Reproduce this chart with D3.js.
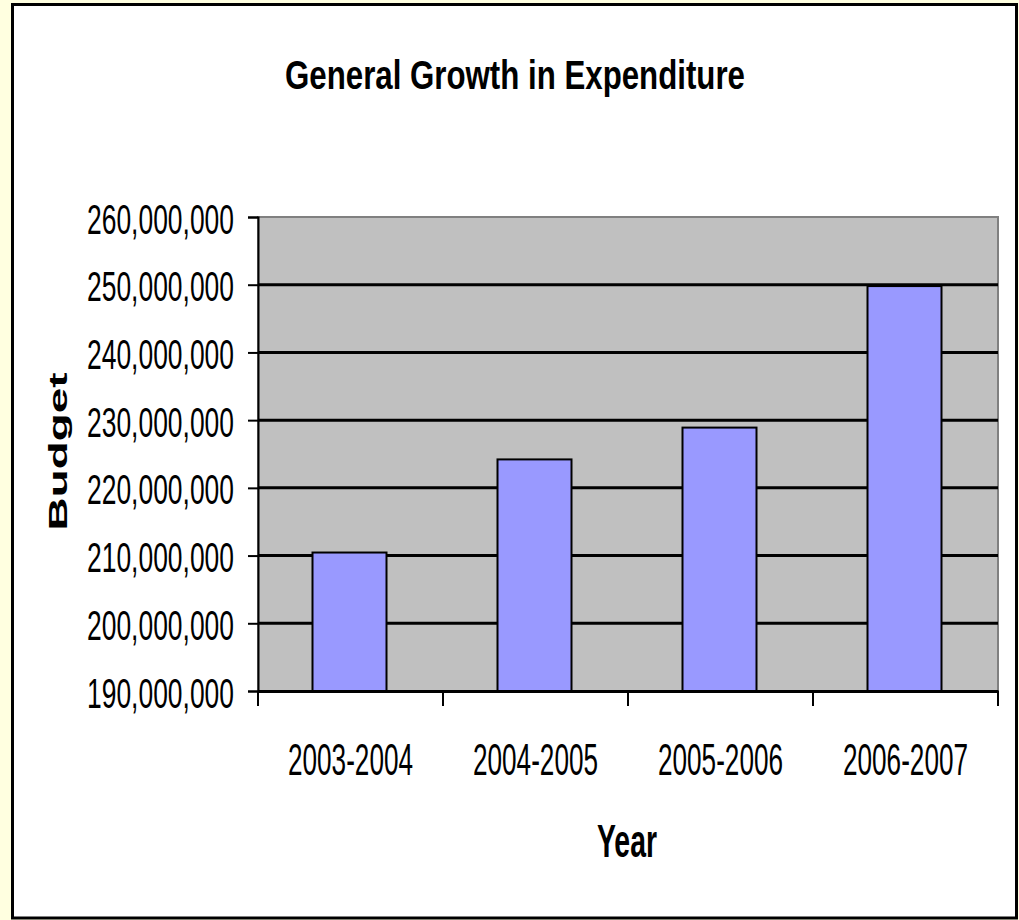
<!DOCTYPE html>
<html>
<head>
<meta charset="utf-8">
<script src="https://cdn.jsdelivr.net/npm/d3@7"></script>
<style>
  html, body { margin: 0; padding: 0; background: #FFFFE0; }
  svg { display: block; }
  text { font-family: "Liberation Sans", Arial, sans-serif; fill: #000; }
</style>
</head>
<body>
<svg id="chart" width="1019" height="920"></svg>
<script>
const categories = ["2003-2004", "2004-2005", "2005-2006", "2006-2007"];
const budget = [210450000, 224200000, 228900000, 249800000];
const yTickValues = [190000000, 200000000, 210000000, 220000000, 230000000, 240000000, 250000000, 260000000];
const chartTitle = "General Growth in Expenditure";
const xTitle = "Year";
const yTitle = "Budget";

const svg = d3.select("#chart");

// place a text at (ax, ay), horizontally scaled so its width equals target
function fit(sel, ax, ay, target, rotate) {
  sel.each(function () {
    const t = d3.select(this).attr("x", 0).attr("y", 0).attr("dy", null);
    const w = this.getComputedTextLength();
    const k = target / w;
    t.attr("transform", `translate(${ax},${ay})` + (rotate ? ` rotate(${rotate})` : "") + ` scale(${k},1)`);
  });
}

// outer frame
svg.append("rect")
  .attr("x", 12.5).attr("y", 4.5).attr("width", 1004).attr("height", 913.5)
  .attr("fill", "#fff").attr("stroke", "#000").attr("stroke-width", 3);

const plot = { left: 258, right: 998, top: 217, bottom: 691 };

const x = d3.scaleBand().domain(categories).range([plot.left, plot.right]).padding(0);
const y = d3.scaleLinear().domain([190000000, 260000000]).range([plot.bottom, plot.top]);

// plot area background
svg.append("rect")
  .attr("x", plot.left).attr("y", plot.top)
  .attr("width", plot.right - plot.left).attr("height", plot.bottom - plot.top)
  .attr("fill", "#C0C0C0").attr("stroke", "#808080").attr("stroke-width", 2);

// gridlines
svg.append("g").selectAll("line")
  .data(yTickValues.filter(v => v > 190000000 && v < 260000000))
  .join("line")
  .attr("x1", plot.left).attr("x2", plot.right)
  .attr("y1", d => y(d)).attr("y2", d => y(d))
  .attr("stroke", "#000").attr("stroke-width", 3);

// bars
const barW = x.bandwidth() * 0.4;
svg.append("g").selectAll("rect")
  .data(categories)
  .join("rect")
  .attr("x", (d) => x(d) + x.bandwidth() / 2 - barW / 2 - 1)
  .attr("width", barW)
  .attr("y", (d, i) => y(budget[i]))
  .attr("height", (d, i) => y(190000000) - y(budget[i]))
  .attr("fill", "#9999FF").attr("stroke", "#000").attr("stroke-width", 2);

// y axis
const yAxis = d3.axisLeft(y).tickValues(yTickValues).tickSize(10).tickFormat(d3.format(","));
const gy = svg.append("g").attr("transform", `translate(${plot.left},0)`).call(yAxis);
gy.select(".domain").attr("stroke", "#000").attr("stroke-width", 2);
gy.selectAll(".tick line").attr("stroke", "#000").attr("stroke-width", 2);
gy.selectAll(".tick text")
  .attr("font-size", 43)
  .style("font-family", '"Liberation Sans", Arial, sans-serif')
  .attr("fill", "#000")
  .call(fit, -24, 16, 147);

// x axis
const xAxis = d3.axisBottom(x).tickSize(0).tickSizeOuter(0);
const gx = svg.append("g").attr("transform", `translate(0,${plot.bottom})`).call(xAxis);
gx.select(".domain").attr("stroke", "#000").attr("stroke-width", 3);
gx.selectAll(".tick line").remove();
gx.selectAll(".tick text")
  .attr("font-size", 44)
  .style("font-family", '"Liberation Sans", Arial, sans-serif')
  .attr("fill", "#000")
  .call(fit, 0, 84, 125);

// category boundary ticks
const bounds = categories.map(c => x(c)).concat([x(categories[categories.length - 1]) + x.bandwidth()]);
svg.append("g").selectAll("line")
  .data(bounds)
  .join("line")
  .attr("x1", d => d).attr("x2", d => d)
  .attr("y1", plot.bottom).attr("y2", plot.bottom + 15)
  .attr("stroke", "#000").attr("stroke-width", 2);

// titles
svg.append("text")
  .attr("text-anchor", "middle")
  .attr("font-size", 41).attr("font-weight", "bold")
  .text(chartTitle)
  .call(fit, 515, 89, 460);

svg.append("text")
  .attr("text-anchor", "middle")
  .attr("font-size", 46).attr("font-weight", "bold")
  .text(xTitle)
  .call(fit, 627, 857, 60);

svg.append("text")
  .attr("text-anchor", "middle")
  .attr("font-size", 26).attr("font-weight", "bold")
  .text(yTitle)
  .call(fit, 67, 451.5, 158, -90);
</script>
</body>
</html>
